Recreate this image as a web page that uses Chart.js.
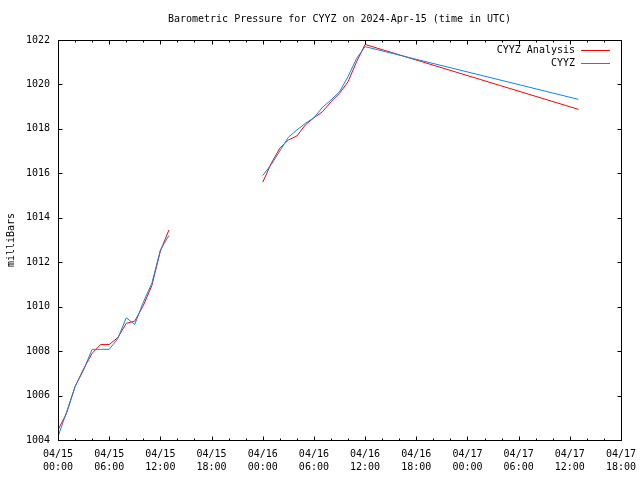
<!DOCTYPE html>
<html>
<head>
<meta charset="utf-8">
<title>Barometric Pressure CYYZ</title>
<script src="https://cdn.jsdelivr.net/npm/chart.js@4.4.1/dist/chart.umd.min.js"></script>
<style>
  html, body { margin: 0; padding: 0; background: #fff; }
  canvas { display: block; }
</style>
</head>
<body>
<canvas id="pressureChart" width="640" height="480"></canvas>
<script>
// hours since 04/15 00:00 UTC (null value = gap in the record)
const hours = [0, 1, 2, 3, 4, 5, 6, 7, 8, 9, 10, 11, 12, 13, 14,
  24, 25, 26, 27, 28, 29, 30, 31, 32, 33, 34, 35, 36, 61];

const analysis = [1004.45, 1005.2, 1006.4, 1007.2, 1007.9, 1008.3, 1008.3, 1008.6, 1009.25, 1009.35,
  1010.05, 1010.95, 1012.5, 1013.45, null,
  1015.6, 1016.45, 1017.13, 1017.5, 1017.68, 1018.18, 1018.5, 1018.77, 1019.22, 1019.6,
  1020.12, 1021.02, 1021.8, 1018.88];

const observed = [1004.15, 1005.25, 1006.4, 1007.15, 1008.08, 1008.08, 1008.08, 1008.55, 1009.5, 1009.2,
  1010.2, 1011.05, 1012.55, 1013.2, null,
  1015.9, 1016.4, 1017.0, 1017.62, 1017.95, 1018.25, 1018.5, 1018.97, 1019.3, 1019.67,
  1020.35, 1021.17, 1021.7, 1019.33];

const xTickLabels = [
  ["04/15", "00:00"], ["04/15", "06:00"], ["04/15", "12:00"], ["04/15", "18:00"],
  ["04/16", "00:00"], ["04/16", "06:00"], ["04/16", "12:00"], ["04/16", "18:00"],
  ["04/17", "00:00"], ["04/17", "06:00"], ["04/17", "12:00"], ["04/17", "18:00"]
];

const seriesNames = ["CYYZ Analysis", "CYYZ"];
const seriesColors = ["#ff0000", "#0a86f5"];

const FONT = "'DejaVu Sans Mono', 'Liberation Mono', monospace";

const toPoints = vals => hours.map((h, i) => ({ x: h, y: vals[i] }));

// gnuplot-like frame: box border, inward ticks on all four sides, key at top right
const framePlugin = {
  id: "frame",
  afterDraw(chart) {
    const ctx = chart.ctx;
    const a = chart.chartArea;
    const xs = chart.scales.x;
    const ys = chart.scales.y;
    const L = Math.round(a.left) + 0.5, R = Math.round(a.right) + 0.5;
    const T = Math.round(a.top) + 0.5, B = Math.round(a.bottom) + 0.5;
    ctx.save();
    ctx.strokeStyle = "#000";
    ctx.lineWidth = 1;
    ctx.strokeRect(L, T, R - L, B - T);

    ctx.beginPath();
    for (let h = xs.min; h <= xs.max; h += 2) {
      const px = Math.round(xs.getPixelForValue(h)) + 0.5;
      const len = h % 6 === 0 ? 4 : 2;
      ctx.moveTo(px, B); ctx.lineTo(px, B - len);
      ctx.moveTo(px, T); ctx.lineTo(px, T + len);
    }
    for (let v = ys.min; v <= ys.max; v += 2) {
      const py = Math.round(ys.getPixelForValue(v)) + 0.5;
      ctx.moveTo(L, py); ctx.lineTo(L + 4, py);
      ctx.moveTo(R, py); ctx.lineTo(R - 4, py);
    }
    ctx.stroke();

    // key
    ctx.font = "10px " + FONT;
    ctx.textAlign = "right";
    ctx.textBaseline = "middle";
    ctx.fillStyle = "#000";
    seriesNames.forEach((name, i) => {
      const y = a.top + 10 + i * 13;
      ctx.fillText(name, a.right - 46, y);
      ctx.strokeStyle = seriesColors[i];
      ctx.beginPath();
      ctx.moveTo(a.right - 40, Math.round(y) + 0.5);
      ctx.lineTo(a.right - 11, Math.round(y) + 0.5);
      ctx.stroke();
    });
    ctx.restore();
  }
};

Chart.defaults.color = "#000";
Chart.defaults.font.family = FONT;
Chart.defaults.font.size = 10;

new Chart(document.getElementById("pressureChart").getContext("2d"), {
  type: "line",
  data: {
    datasets: [
      {
        label: seriesNames[0],
        data: toPoints(analysis),
        borderColor: seriesColors[0],
        borderWidth: 1,
        pointRadius: 0,
        tension: 0,
        spanGaps: false,
        order: 1
      },
      {
        label: seriesNames[1],
        data: toPoints(observed),
        borderColor: seriesColors[1],
        borderWidth: 1,
        pointRadius: 0,
        tension: 0,
        spanGaps: false,
        order: 0
      }
    ]
  },
  options: {
    responsive: false,
    animation: false,
    devicePixelRatio: 1,
    layout: { padding: { top: 0, right: 19, bottom: 0, left: 0 } },
    plugins: {
      legend: { display: false },
      tooltip: { enabled: false },
      title: {
        display: true,
        text: "Barometric Pressure for CYYZ on 2024-Apr-15 (time in UTC)",
        fullSize: false,
        color: "#000",
        font: { family: FONT, size: 10, weight: "normal", lineHeight: 1.2 },
        padding: { top: 13, bottom: 15 }
      }
    },
    scales: {
      x: {
        type: "linear",
        min: 0,
        max: 66,
        grid: { display: false, drawTicks: false },
        border: { display: false },
        ticks: {
          stepSize: 6,
          autoSkip: false,
          maxRotation: 0,
          padding: 8,
          font: { size: 10, lineHeight: 1.27 },
          callback: (value, index) => xTickLabels[index]
        },
        afterFit: scale => {
          scale.height = 40;
          scale.paddingLeft = 0;
          scale.paddingRight = 0;
        }
      },
      y: {
        min: 1004,
        max: 1022,
        grid: { display: false, drawTicks: false },
        border: { display: false },
        ticks: { stepSize: 2, padding: 8, callback: value => String(value) },
        title: {
          display: true,
          text: "milliBars",
          font: { size: 10, lineHeight: 1.2 },
          padding: { top: 5, bottom: 0 }
        },
        afterFit: scale => { scale.width = 58; }
      }
    }
  },
  plugins: [framePlugin]
});
</script>
</body>
</html>
